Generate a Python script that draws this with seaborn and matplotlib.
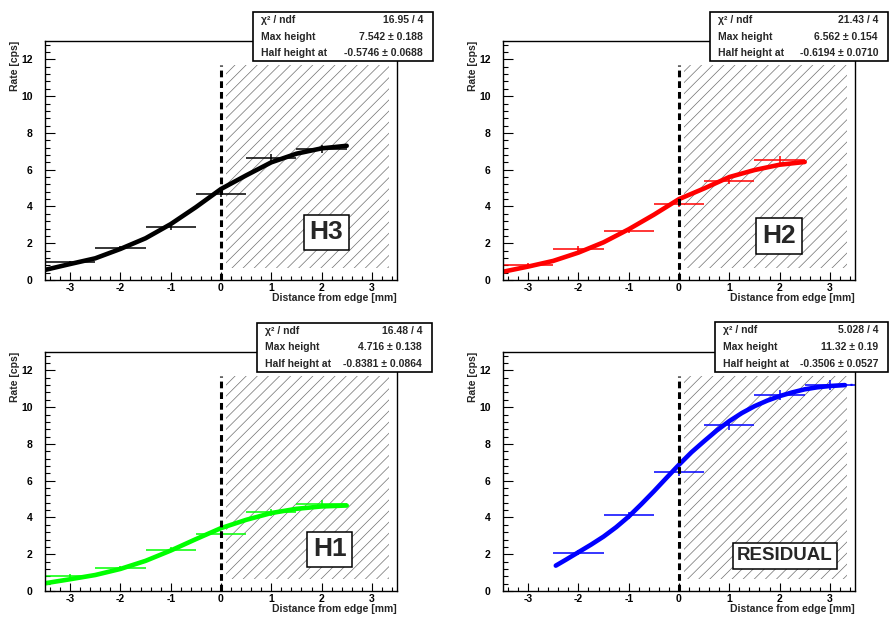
import matplotlib
matplotlib.use("Agg")
import matplotlib.pyplot as plt
from matplotlib.patches import Rectangle
from matplotlib.ticker import MultipleLocator
import seaborn as sns

# bin centres of the measured points (each bin is 1 mm wide)
bin_x = [-3, -2, -1, 0, 1, 2]
bin_x_res = [-2, -1, 0, 1, 2, 3]
bin_half_width = 0.5

# measured rates [cps] and their errors
h3_rate = [0.96, 1.73, 2.91, 4.70, 6.62, 7.11]
h3_err = [0.10, 0.13, 0.17, 0.20, 0.22, 0.22]
h2_rate = [0.82, 1.71, 2.69, 4.16, 5.40, 6.55]
h2_err = [0.09, 0.12, 0.15, 0.18, 0.20, 0.22]
h1_rate = [0.82, 1.27, 2.24, 3.11, 4.27, 4.75]
h1_err = [0.08, 0.10, 0.13, 0.15, 0.18, 0.19]
res_rate = [2.09, 4.11, 6.47, 9.04, 10.64, 11.20]
res_err = [0.14, 0.18, 0.22, 0.26, 0.27, 0.28]

# fitted curves
fit_x = [-3.5, -3.0, -2.5, -2.0, -1.5, -1.0, -0.5, 0.0, 0.5, 1.0, 1.5, 2.0, 2.5]
h3_fit = [0.55, 0.87, 1.18, 1.69, 2.27, 3.04, 3.96, 4.95, 5.69, 6.40, 6.87, 7.16, 7.30]
h2_fit = [0.45, 0.73, 1.04, 1.49, 2.05, 2.76, 3.55, 4.40, 4.98, 5.60, 5.98, 6.27, 6.42]
h1_fit = [0.42, 0.64, 0.87, 1.20, 1.64, 2.20, 2.82, 3.42, 3.87, 4.24, 4.47, 4.60, 4.65]
res_fit_x = [-2.45, -2.25, -2.0, -1.75, -1.5, -1.25, -1.0, -0.75, -0.5, -0.25, 0.0,
             0.25, 0.5, 0.75, 1.0, 1.25, 1.5, 1.75, 2.0, 2.25, 2.5, 2.75, 3.0, 3.3]
res_fit = [1.38, 1.70, 2.11, 2.52, 2.96, 3.47, 4.05, 4.72, 5.42, 6.15, 6.87,
           7.55, 8.15, 8.73, 9.24, 9.68, 10.05, 10.35, 10.60, 10.80, 10.97, 11.08, 11.15, 11.20]
res_tail_x = [3.3, 3.5]
res_tail = [11.20, 11.22]

# fit results shown in the stat boxes
stats_h3 = [("χ² / ndf", "16.95 / 4"), ("Max height", "7.542 ± 0.188"),
            ("Half height at", "-0.5746 ± 0.0688")]
stats_h2 = [("χ² / ndf", "21.43 / 4"), ("Max height", "6.562 ± 0.154"),
            ("Half height at", "-0.6194 ± 0.0710")]
stats_h1 = [("χ² / ndf", "16.48 / 4"), ("Max height", "4.716 ± 0.138"),
            ("Half height at", "-0.8381 ± 0.0864")]
stats_res = [("χ² / ndf", "5.028 / 4"), ("Max height", "11.32 ± 0.19"),
             ("Half height at", "-0.3506 ± 0.0527")]

# region outside the edge (hatched)
edge_x = 0.0
hatch_x0, hatch_x1 = 0.1, 3.34
hatch_y0, hatch_y1 = 0.65, 11.72

sns.set_style("white")
plt.rcParams['font.family'] = ['Liberation Sans', 'DejaVu Sans']
plt.rcParams['font.weight'] = 'bold'
plt.rcParams['hatch.linewidth'] = 0.5
plt.rcParams['axes.unicode_minus'] = False
plt.rcParams.update({
    'xtick.bottom': True, 'xtick.top': False, 'ytick.left': True, 'ytick.right': False,
    'xtick.direction': 'in', 'ytick.direction': 'in',
    'xtick.color': 'black', 'ytick.color': 'black',
    'xtick.minor.visible': True, 'ytick.minor.visible': True,
})

W, H = 889, 621
fig = plt.figure(figsize=(W / 100, H / 100), dpi=100)


def px_axes(left, top, right, bottom):
    return fig.add_axes([left / W, 1 - bottom / H, (right - left) / W, (bottom - top) / H])


def draw_stats(left, top, right, bottom, rows):
    box = Rectangle((left / W, 1 - bottom / H), (right - left) / W, (bottom - top) / H,
                    transform=fig.transFigure, facecolor='white', edgecolor='black',
                    linewidth=1.2, zorder=10)
    fig.patches.append(box)
    step = (bottom - top) / len(rows)
    for i, (name, value) in enumerate(rows):
        yc = 1 - (top + step * (i + 0.5)) / H
        fig.text((left + 8) / W, yc, name, ha='left', va='center', fontsize=7.5,
                 fontweight='bold', zorder=11)
        fig.text((right - 10) / W, yc, value, ha='right', va='center', fontsize=7.5,
                 fontweight='bold', zorder=11)


def draw_panel(ax, xs, rates, errs, fx, fy, color, label, label_pos, label_size):
    ax.add_patch(Rectangle((hatch_x0, hatch_y0), hatch_x1 - hatch_x0, hatch_y1 - hatch_y0,
                           fill=False, hatch='///', edgecolor='#707070', linewidth=0, zorder=1))
    sns.lineplot(x=fx, y=fy, ax=ax, color=color, linewidth=3.3, sort=False,
                 legend=False, zorder=3)
    ax.errorbar(xs, rates, xerr=bin_half_width, yerr=errs, fmt='none', ecolor=color,
                elinewidth=1.1, capsize=0, zorder=4)
    ax.vlines(edge_x, 0, hatch_y1, colors='black', linestyles=(0, (2.2, 1.3)),
              linewidth=2.2, zorder=5)
    ax.text(label_pos[0], label_pos[1], label, ha='center', va='center',
            fontsize=label_size, fontweight='bold', zorder=6,
            bbox=dict(boxstyle='square,pad=0.22', facecolor='white', edgecolor='black',
                      linewidth=1.1))

    ax.set_xlim(-3.5, 3.5)
    ax.set_ylim(0, 13)
    ax.xaxis.set_major_locator(MultipleLocator(1))
    ax.xaxis.set_minor_locator(MultipleLocator(0.2))
    ax.yaxis.set_major_locator(MultipleLocator(2))
    ax.yaxis.set_minor_locator(MultipleLocator(0.4))
    ax.tick_params(axis='x', which='major', direction='in', length=5.5, width=0.8,
                   pad=2.2, labelsize=7.5, bottom=True, color='black')
    ax.tick_params(axis='x', which='minor', direction='in', length=2.8, width=0.8,
                   bottom=True, color='black')
    ax.tick_params(axis='y', which='major', direction='in', length=7, width=0.8,
                   pad=9, labelsize=7.5, left=True, color='black')
    ax.tick_params(axis='y', which='minor', direction='in', length=3.5, width=0.8,
                   left=True, color='black')
    for lab in ax.get_xticklabels() + ax.get_yticklabels():
        lab.set_fontweight('bold')
    for sp in ax.spines.values():
        sp.set_color('black')
        sp.set_linewidth(1.0)
        sp.set_zorder(7)
    ax.set_xlabel('Distance from edge [mm]', fontsize=7.5, fontweight='bold', loc='right')
    ax.set_ylabel('Rate [cps]', fontsize=7.5, fontweight='bold', loc='top')
    ax.xaxis.set_label_coords(1.0, -0.055)
    ax.yaxis.set_label_coords(-0.07, 1.0)


ax_h3 = px_axes(45, 41, 397, 280)
ax_h2 = px_axes(503, 41, 855, 280)
ax_h1 = px_axes(45, 352, 397, 591)
ax_res = px_axes(503, 352, 855, 591)

draw_panel(ax_h3, bin_x, h3_rate, h3_err, fit_x, h3_fit, 'black', 'H3', (2.1, 2.59), 19)
draw_panel(ax_h2, bin_x, h2_rate, h2_err, fit_x, h2_fit, '#ff0000', 'H2', (1.99, 2.4), 19)
draw_panel(ax_h1, bin_x, h1_rate, h1_err, fit_x, h1_fit, '#00ff00', 'H1', (2.16, 2.26), 19)
draw_panel(ax_res, bin_x_res, res_rate, res_err, res_fit_x, res_fit, '#0000ff', 'RESIDUAL',
           (2.11, 1.91), 13.5)
ax_res.plot(res_tail_x, res_tail, color='#0000ff', linewidth=1.5, linestyle=':', zorder=3)

draw_stats(253, 12, 433, 61, stats_h3)
draw_stats(710, 12, 888, 61, stats_h2)
draw_stats(257, 323, 432, 372, stats_h1)
draw_stats(715, 322, 888, 372, stats_res)

fig.savefig('out.png', dpi=100)
